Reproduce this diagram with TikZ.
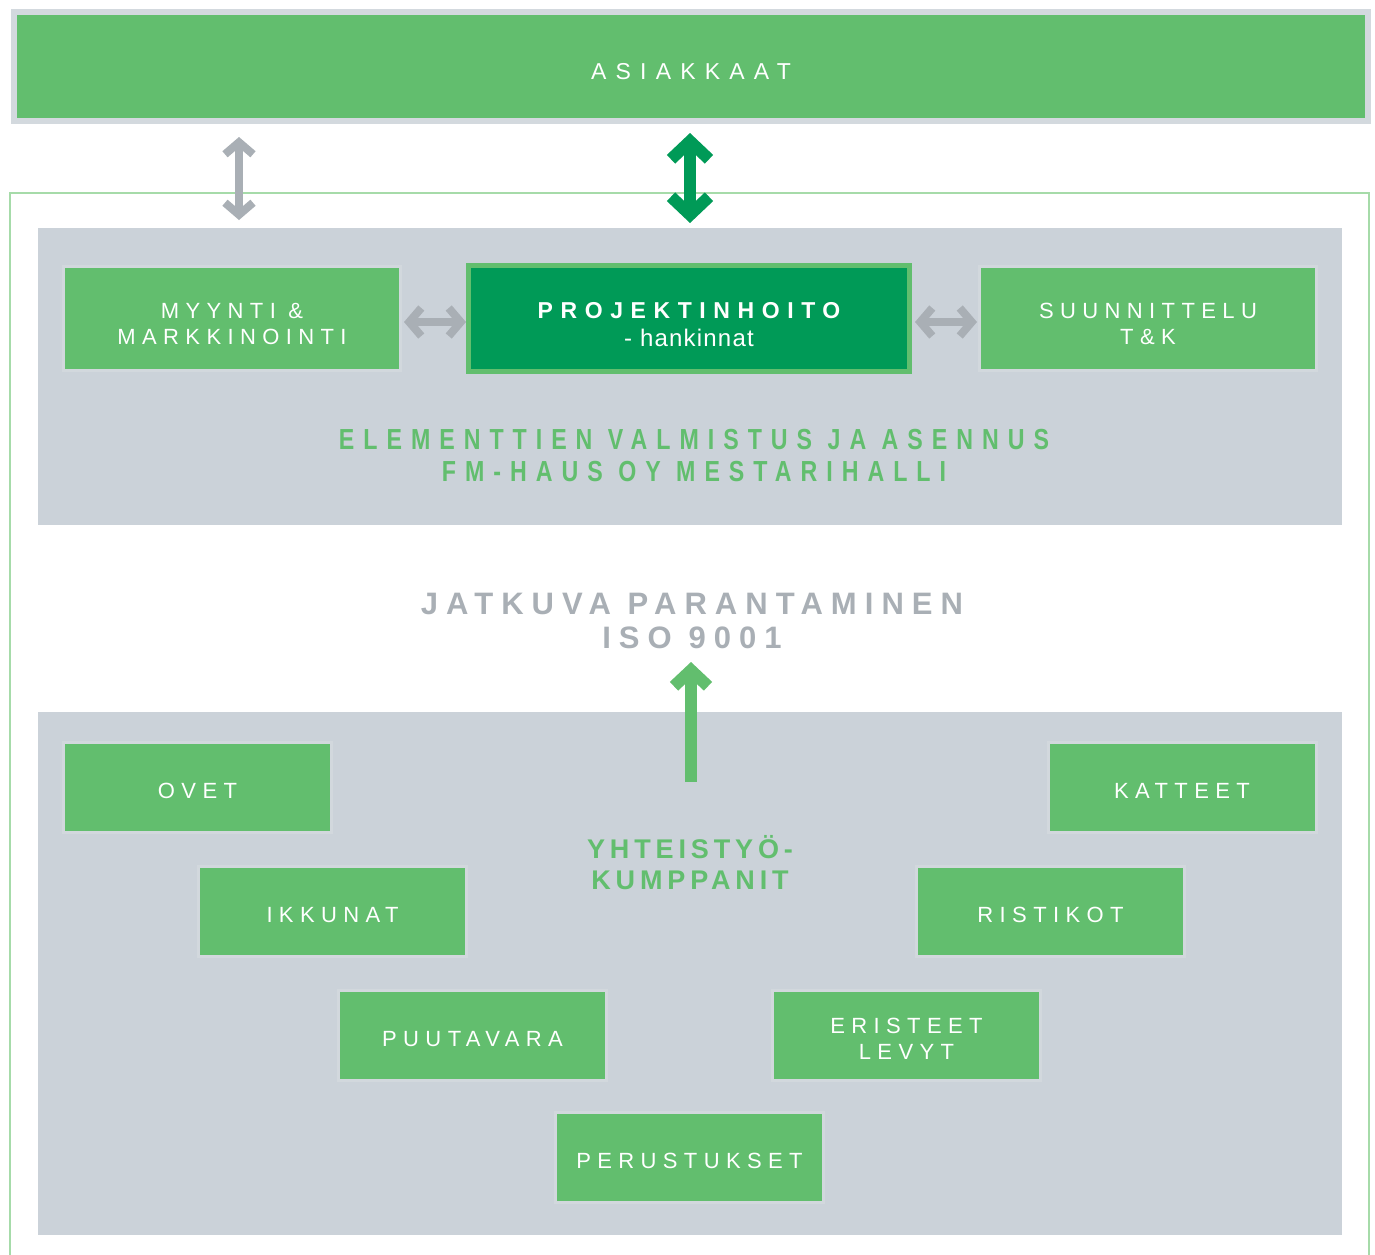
\documentclass[tikz,border=0pt]{standalone}
\usepackage{fontspec}
\setmainfont{Liberation Sans}
\newfontfamily\boxfont[LetterSpace=29]{Liberation Sans}
\newfontfamily\topfont[LetterSpace=40]{Liberation Sans}
\newfontfamily\projfont[LetterSpace=33]{Liberation Sans}
\newfontfamily\subfont[LetterSpace=5]{Liberation Sans}
\newfontfamily\condfont[LetterSpace=31,FakeStretch=0.8]{Liberation Sans}
\newfontfamily\widefont[LetterSpace=26]{Liberation Sans}
\newfontfamily\partfont[LetterSpace=18]{Liberation Sans}
\usetikzlibrary{arrows.meta}
\definecolor{lgreen}{HTML}{62BE6E}
\definecolor{dgreen}{HTML}{009A57}
\definecolor{panel}{HTML}{CBD2D9}
\definecolor{halo}{HTML}{D2D8DD}
\definecolor{tophalo}{HTML}{D3D9DE}
\definecolor{agray}{HTML}{A9AFB5}
\definecolor{frameg}{HTML}{A6DBA9}
\newcommand\lift[1]{\rule{0pt}{#1pt}}
\tikzset{
  gbox/.style={fill=lgreen, text=white, inner sep=0pt, align=center,
    preaction={draw=halo, line width=6},
    font={\boxfont\fontsize{22}{26}\selectfont}},
  lowbox/.style={gbox, minimum width=265, minimum height=87},
  upbox/.style={gbox, minimum width=334, minimum height=101},
  panelbox/.style={fill=panel, inner sep=0pt},
  barbg/.tip={Straight Barb[length=12,width=28]},
  garrow/.style={draw=agray, line width=8, arrows={barbg-barbg}},
  barbG/.tip={Straight Barb[length=18,width=38]},
  Garrow/.style={draw=dgreen, line width=12, arrows={barbG-barbG}},
  barbL/.tip={Straight Barb[length=16,width=34]},
  uparrow/.style={draw=lgreen, line width=12, arrows={-barbL}},
  headtext/.style={text=lgreen, align=center, font={\condfont\bfseries\fontsize{29}{32}\selectfont}},
  isotext/.style={text=agray, align=center, font={\widefont\bfseries\fontsize{31}{34}\selectfont}},
  parttext/.style={text=lgreen, align=center, font={\partfont\bfseries\fontsize{27}{31}\selectfont}},
}
\begin{document}
\begin{tikzpicture}[x=1pt,y=-1pt]
\useasboundingbox (0,0) rectangle (1375,1254);
\fill[white] (0,0) rectangle (1375,1254);
% outer frame
\draw[frameg, line width=2] (10,1260) -- (10,193) -- (1369,193) -- (1369,1260);
% top box
\node[fill=lgreen, preaction={draw=tophalo, line width=12}, minimum width=1348, minimum height=103,
  inner sep=0pt, text=white, font={\topfont\fontsize{23}{26}\selectfont}]
  (asiakkaat) at (691,66.5) {\lift{27}ASIAKKAAT};
% panels
\node[panelbox, minimum width=1304, minimum height=297] (upanel) at (690,376.5) {};
\node[panelbox, minimum width=1304, minimum height=523] (lpanel) at (690,973.5) {};
% upper boxes
\node[upbox] (myynti) at (232,318.5) {\lift{26}MYYNTI \&\\MARKKINOINTI};
\node[upbox] (suun) at (1148,318.5) {\lift{26}SUUNNITTELU\\T\&K};
\node[fill=dgreen, preaction={draw=lgreen, line width=10}, minimum width=436, minimum height=101,
  inner sep=0pt, text=white, align=center, font={\fontsize{22}{28}\selectfont}] (proj) at (689,318.5)
  {{\projfont\bfseries\fontsize{23}{28}\selectfont\lift{29}PROJEKTINHOITO}\\{\subfont\fontsize{24}{28}\selectfont - hankinnat}};
% arrows
\coordinate (la1) at (239,137);
\coordinate (la2) at (239,220);
\draw[garrow] (la1) -- (la2);
\coordinate (ga1) at (690,133);
\coordinate (ga2) at (690,223);
\draw[Garrow] (ga1) -- (ga2);
\coordinate (ha1) at (404,322);
\coordinate (ha2) at (466,322);
\draw[garrow] (ha1) -- (ha2);
\coordinate (hb1) at (915,322);
\coordinate (hb2) at (977,322);
\draw[garrow] (hb1) -- (hb2);
% texts
\node[headtext] (elem) at (694,456) {ELEMENTTIEN VALMISTUS JA ASENNUS\\FM-HAUS OY MESTARIHALLI};
\node[isotext] (iso) at (692,621) {JATKUVA PARANTAMINEN\\ISO 9001};
\coordinate (ua1) at (691,782);
\coordinate (ua2) at (691,662);
\draw[uparrow] (ua1) -- (ua2);
\node[parttext] (kump) at (690,863) {YHTEISTYÖ-\\KUMPPANIT};
% lower boxes
\node[lowbox] (ovet) at (197.5,787.5) {\lift{22}OVET};
\node[lowbox] (katteet) at (1182,787.5) {\lift{22}KATTEET};
\node[lowbox] (ikkunat) at (332.5,911.5) {\lift{22}IKKUNAT};
\node[lowbox] (ristikot) at (1050.5,911.5) {\lift{22}RISTIKOT};
\node[lowbox] (puutavara) at (472.5,1035.5) {\lift{22}PUUTAVARA};
\node[lowbox] (eristeet) at (906.5,1035.5) {\lift{21}ERISTEET\\LEVYT};
\node[lowbox] (perustukset) at (689.5,1157.5) {\lift{22}PERUSTUKSET};
\end{tikzpicture}
\end{document}
